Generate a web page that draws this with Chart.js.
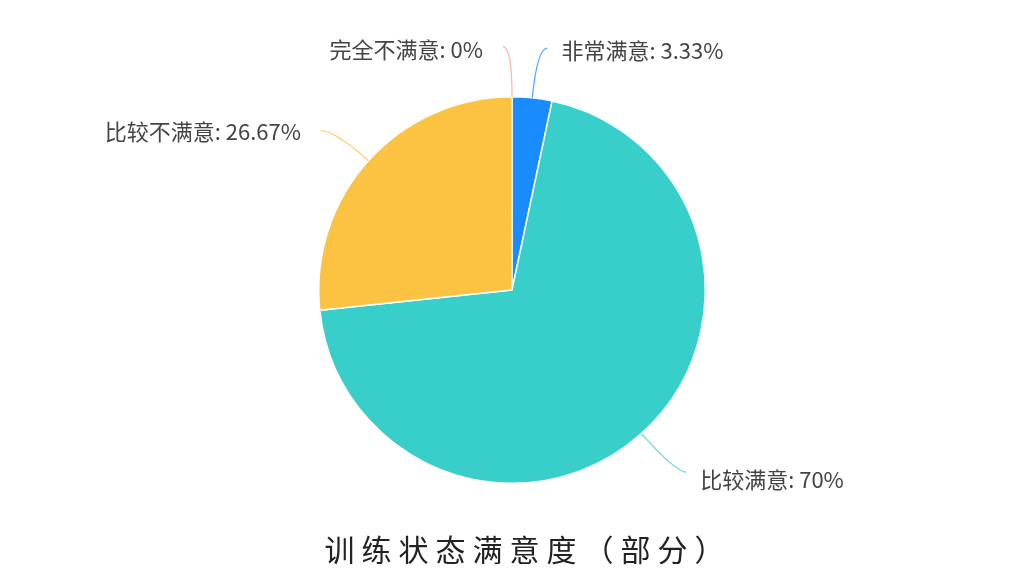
<!DOCTYPE html>
<html>
<head>
<meta charset="utf-8">
<script src="https://cdn.jsdelivr.net/npm/chart.js@4/dist/chart.umd.min.js"></script>
<style>
  html, body { margin: 0; padding: 0; background: #fff; }
  #chart { display: block; }
</style>
</head>
<body>
<canvas id="chart" width="1024" height="580"></canvas>
<script>
// chart data
const categories = ['非常满意', '比较满意', '比较不满意', '完全不满意'];
const percents = [3.33, 70, 26.67, 0];
const titleText = '训练状态满意度（部分）';

// slice colours
const sliceColors = ['#1a8cff', '#38cfca', '#fbc341', '#f2a48e'];

// leader line layout per slice: radial length, horizontal length, text gap, text nudge
const leaderRadial = [50, 52, 45, 50];
const leaderFlat = [10, 10, 14, 9];
const textGap = [14, 14, 20, 20];
const textDy = [3, 7, 1, 3];

// draws the leader lines and outside labels
const outsideLabels = {
    id: 'outsideLabels',
    afterDatasetsDraw(chart) {
        const ctx = chart.ctx;
        const meta = chart.getDatasetMeta(0);
        ctx.save();
        meta.data.forEach(function (arc, i) {
            const mid = (arc.startAngle + arc.endAngle) / 2;
            const cx = arc.x, cy = arc.y, r = arc.outerRadius;
            const cos = Math.cos(mid), sin = Math.sin(mid);
            const x0 = cx + cos * r, y0 = cy + sin * r;
            const x1 = cx + cos * (r + leaderRadial[i]), y1 = cy + sin * (r + leaderRadial[i]);
            // side: right if cos > 0, left otherwise (zero slice at top goes left)
            const right = cos > 0.001;
            const x2 = x1 + (right ? leaderFlat[i] : -leaderFlat[i]);
            ctx.strokeStyle = sliceColors[i];
            ctx.globalAlpha = 0.75;
            ctx.lineWidth = 1.3;
            ctx.beginPath();
            ctx.moveTo(x0, y0);
            ctx.quadraticCurveTo(x1, y1, x2, y1);
            ctx.stroke();
            ctx.globalAlpha = 1;
            ctx.fillStyle = '#444';
            ctx.font = '22px "Noto Sans CJK SC", "Noto Sans", sans-serif';
            ctx.textBaseline = 'middle';
            ctx.textAlign = right ? 'left' : 'right';
            const text = categories[i] + ': ' + percents[i] + '%';
            ctx.fillText(text, x2 + (right ? textGap[i] : -textGap[i]), y1 + textDy[i]);
        });

        // title under the pie
        ctx.fillStyle = '#222';
        ctx.font = '30px "Noto Sans CJK SC", sans-serif';
        ctx.textAlign = 'center';
        ctx.textBaseline = 'middle';
        if ('letterSpacing' in ctx) ctx.letterSpacing = '7px';
        ctx.fillText(titleText, 528, 550);
        ctx.restore();
    }
};

const ctx = document.getElementById('chart').getContext('2d');
const myChart = new Chart(ctx, {
    type: 'pie',
    data: {
        labels: categories,
        datasets: [{
            data: percents,
            backgroundColor: sliceColors,
            borderColor: '#ffffff',
            borderWidth: 1.5
        }]
    },
    options: {
        responsive: false,
        animation: false,
        layout: {
            padding: { top: 96, bottom: 96, left: 200, right: 200 }
        },
        plugins: {
            legend: { display: false },
            tooltip: { enabled: false },
            title: { display: false }
        }
    },
    plugins: [outsideLabels]
});
</script>
</body>
</html>
